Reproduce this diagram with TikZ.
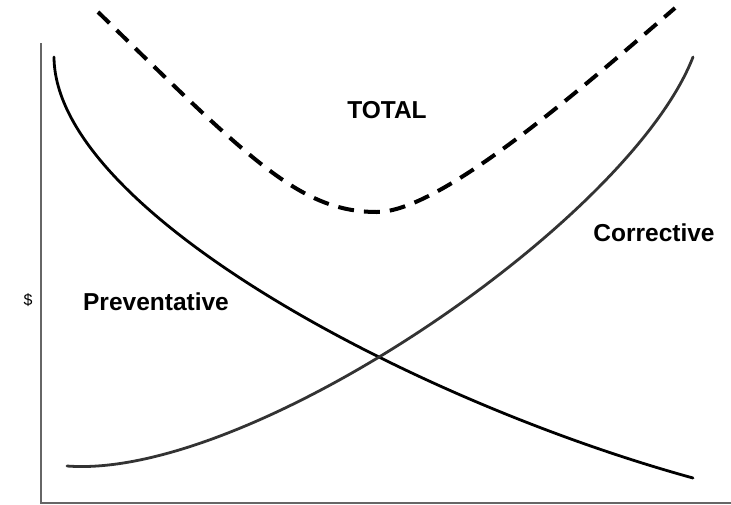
\documentclass[tikz,border=0pt]{standalone}
\usepackage{fontspec}
\setmainfont{Liberation Sans}
\begin{document}
\begin{tikzpicture}[x=1pt,y=-1pt,
  axis/.style={draw=black!60,line width=1.4pt},
  cost/.style={draw=black,line width=2.8pt,line cap=round},
  total/.style={draw=black,line width=4pt,dash pattern=on 16pt off 10pt},
  lbl/.style={font=\fontsize{24.5}{29}\selectfont\bfseries,inner sep=0pt,anchor=base}]
\useasboundingbox (0,0) rectangle (731,504);
% axes
\draw[axis] (41,43) -- (41,503) -- (731,503);
% preventative
\draw[cost] (54,57) .. controls (55,210) and (410,400) .. (693,478);
% corrective
\draw[cost,draw=black!80] (67,466) .. controls (250,480) and (630,220) .. (693,57);
% total
\draw[total] (98,12) .. controls (250,160) and (300,212) .. (377,212)
  .. controls (440,212) and (580,90) .. (675,8);
% labels
\node[lbl] (tot) at (387,118) {TOTAL};
\node[lbl] (cor) at (654,241) {Corrective};
\node[lbl] (pre) at (156,310) {Preventative};
\node[font=\fontsize{16}{19}\selectfont,inner sep=0pt] (dol) at (28,300) {\$};
\end{tikzpicture}
\end{document}
